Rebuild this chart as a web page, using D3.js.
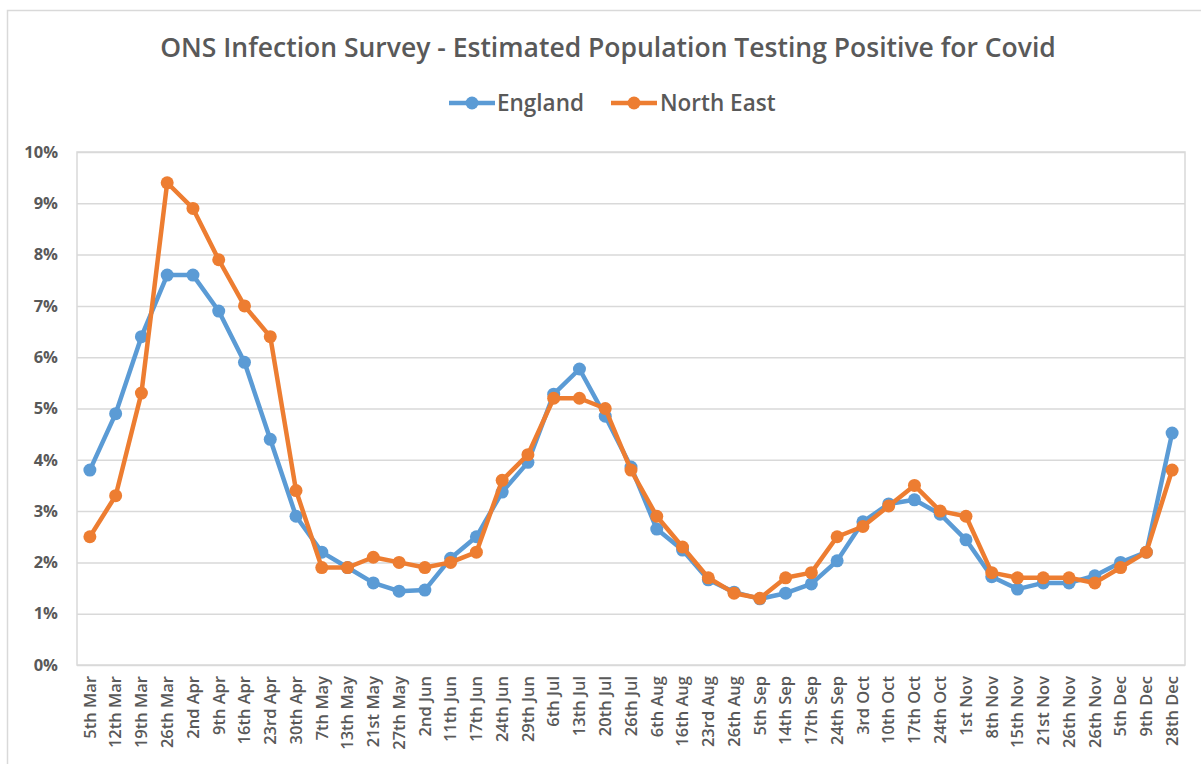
<!DOCTYPE html>
<html>
<head>
<meta charset="utf-8">
<script src="https://cdn.jsdelivr.net/npm/d3@7"></script>
<style>
  html, body { margin: 0; padding: 0; background: #fff; }
  svg { display: block; font-family: "Open Sans", sans-serif; }
</style>
</head>
<body>
<svg id="chart" width="1201" height="764"></svg>
<script>
const categories = ["5th Mar","12th Mar","19th Mar","26th Mar","2nd Apr","9th Apr","16th Apr","23rd Apr","30th Apr","7th May","13th May","21st May","27th May","2nd Jun","11th Jun","17th Jun","24th Jun","29th Jun","6th Jul","13th Jul","20th Jul","26th Jul","6th Aug","16th Aug","23rd Aug","26th Aug","5th Sep","14th Sep","17th Sep","24th Sep","3rd Oct","10th Oct","17th Oct","24th Oct","1st Nov","8th Nov","15th Nov","21st Nov","26th Nov","26th Nov","5th Dec","9th Dec","28th Dec"];
const england = [3.8,4.9,6.4,7.6,7.6,6.9,5.9,4.4,2.9,2.2,1.9,1.6,1.44,1.46,2.08,2.5,3.37,3.95,5.28,5.77,4.85,3.86,2.65,2.24,1.66,1.42,1.29,1.4,1.58,2.03,2.79,3.14,3.22,2.94,2.44,1.72,1.48,1.6,1.6,1.74,2.0,2.2,4.52];
const northEast = [2.5,3.3,5.3,9.4,8.9,7.9,7.0,6.4,3.4,1.9,1.9,2.1,2.0,1.9,2.0,2.2,3.6,4.1,5.2,5.2,5.0,3.8,2.9,2.3,1.7,1.4,1.3,1.7,1.8,2.5,2.7,3.1,3.5,3.0,2.9,1.8,1.7,1.7,1.7,1.6,1.9,2.2,3.8];
const yTicks = [0,1,2,3,4,5,6,7,8,9,10];
const seriesNames = ["England","North East"];
const seriesColors = ["#5B9BD5","#ED7D31"];
const chartTitle = "ONS Infection Survey - Estimated Population Testing Positive for Covid";

(function () {
const svg = d3.select("#chart");
const pL = 77, pR = 1185, pT = 152, pB = 665;

// outer chart border
svg.append("rect").attr("x", 7.5).attr("y", 10.5).attr("width", 1220).attr("height", 800)
  .attr("fill", "none").attr("stroke", "#d9d9d9").attr("stroke-width", 1.5);

const x = d3.scaleBand().domain(d3.range(categories.length)).range([pL, pR]);
const y = d3.scaleLinear().domain([0, 10]).range([pB, pT]);

// gridlines + y labels
const yAxis = d3.axisLeft(y).tickValues(yTicks).tickSize(-(pR - pL)).tickFormat(d => d + "%").tickPadding(19);
const gy = svg.append("g").attr("transform", `translate(${pL},0)`).call(yAxis);
gy.select(".domain").remove();
gy.selectAll(".tick line").attr("stroke", "#d9d9d9").attr("stroke-width", 1.5);
gy.selectAll(".tick text").attr("fill", "#595959").attr("font-size", 16.5).attr("font-weight", 700)
  .attr("font-family", "'Open Sans', sans-serif");

// plot area border
svg.append("rect").attr("x", pL).attr("y", pT).attr("width", pR - pL).attr("height", pB - pT)
  .attr("fill", "none").attr("stroke", "#d9d9d9").attr("stroke-width", 1.5);

// x axis
const xAxis = d3.axisBottom(x).tickSize(0).tickFormat(i => categories[i]);
const gx = svg.append("g").attr("transform", `translate(0,${pB})`).call(xAxis);
gx.select(".domain").remove();
gx.selectAll(".tick text")
  .attr("fill", "#595959").attr("font-size", 16.5).attr("font-weight", 600).attr("font-family", "'Open Sans', sans-serif")
  .attr("text-anchor", "end")
  .attr("transform", "rotate(-90)")
  .attr("x", -11).attr("y", 0).attr("dy", "0.35em");

// lines
const data = [england, northEast];
const line = d3.line().x((d, i) => x(i) + x.bandwidth() / 2).y(d => y(d));
data.forEach((vals, si) => {
  svg.append("path").datum(vals).attr("d", line).attr("fill", "none")
    .attr("stroke", seriesColors[si]).attr("stroke-width", 4.5).attr("stroke-linejoin", "round");
  svg.append("g").selectAll("circle").data(vals).join("circle")
    .attr("cx", (d, i) => x(i) + x.bandwidth() / 2).attr("cy", d => y(d)).attr("r", 6.5)
    .attr("fill", seriesColors[si]);
});

// title
svg.append("text").attr("x", 608).attr("y", 57).attr("text-anchor", "middle")
  .attr("font-size", 26.5).attr("font-weight", 600).attr("fill", "#595959").text(chartTitle);

// legend
const legendItems = [{x: 449, tx: 497}, {x: 611, tx: 660}];
legendItems.forEach((it, i) => {
  const g = svg.append("g");
  g.append("line").attr("x1", it.x).attr("x2", it.x + 46).attr("y1", 103).attr("y2", 103)
    .attr("stroke", seriesColors[i]).attr("stroke-width", 4.5);
  g.append("circle").attr("cx", it.x + 23).attr("cy", 103).attr("r", 6.5).attr("fill", seriesColors[i]);
  g.append("text").attr("x", it.tx).attr("y", 103).attr("dy", "0.35em")
    .attr("font-size", 22.5).attr("font-weight", 600).attr("fill", "#595959").text(seriesNames[i]);
});
})();
</script>
</body>
</html>
